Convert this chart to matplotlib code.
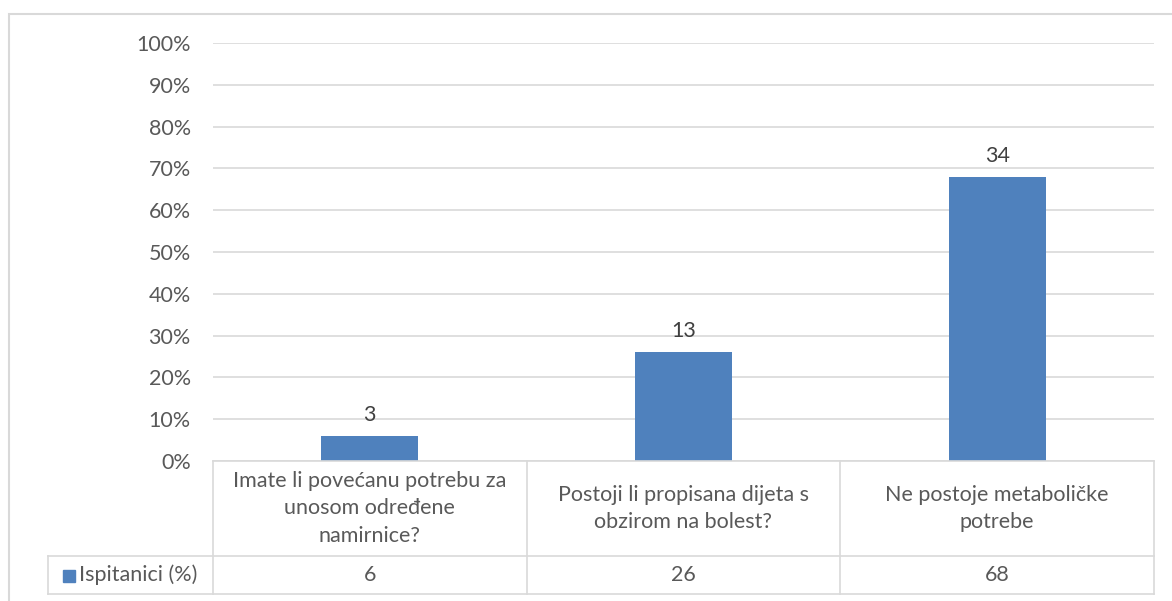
import matplotlib.pyplot as plt
from matplotlib.ticker import PercentFormatter

# ---------- Data ----------
categories = [
    "Imate li povećanu potrebu za\nunosom određene\nnamirnice?",
    "Postoji li propisana dijeta s\nobzirom na bolest?",
    "Ne postoje metaboličke\npotrebe",
]
percent = [6, 26, 68]
counts = [3, 13, 34]
series_name = "Ispitanici (%)"

bar_color = "#4F81BD"
text_color = "#595959"
grid_color = "#D9D9D9"
fs = 15.5
plt.rcParams["font.family"] = ["Lato", "DejaVu Sans"]

W, H = 1172, 601
fig = plt.figure(figsize=(W / 100, H / 100), dpi=100)

# pixel layout
px_left, px_right = 213, 1154
px_top, px_zero = 43, 461
px_row, px_bottom = 556, 594
px_tab_left = 48

def fx(p):
    return p / W

def fy(p):
    return 1 - p / H

# ---------- Bar chart ----------
ax = fig.add_axes([fx(px_left), fy(px_zero), fx(px_right - px_left), fy(px_top) - fy(px_zero)])
x = range(len(categories))
ax.bar(x, [p / 100 for p in percent], width=0.31, color=bar_color, zorder=3)
for i, c in enumerate(counts):
    ax.text(i, percent[i] / 100 + 0.026, str(c), ha="center", va="bottom",
            fontsize=fs, color="#404040")
ax.set_xlim(-0.5, 2.5)
ax.set_ylim(0, 1)
ax.set_yticks([i / 10 for i in range(11)])
ax.yaxis.set_major_formatter(PercentFormatter(1.0, decimals=0))
ax.tick_params(axis="y", length=0, pad=16, labelsize=fs, labelcolor=text_color)
ax.set_xticks([])
ax.grid(axis="y", color=grid_color, linewidth=1.2, zorder=0)
for s in ax.spines.values():
    s.set_visible(False)

# ---------- Data table ----------
cat_w = (px_right - px_left) / 3
legend_w = (px_left - px_tab_left) / cat_w
tax = fig.add_axes([fx(px_tab_left), fy(px_bottom), fx(px_right - px_tab_left), fy(px_zero) - fy(px_bottom)])
tax.set_xlim(-0.5 - legend_w, 2.5)
tax.set_ylim(0, px_bottom - px_zero)
tax.axis("off")
row_y = px_bottom - px_row
top_y = px_bottom - px_zero
lw = 1.2
# horizontal lines
tax.plot([-0.5, 2.5], [top_y, top_y], color=grid_color, lw=lw, clip_on=False)
tax.plot([-0.5 - legend_w, 2.5], [row_y, row_y], color=grid_color, lw=lw, clip_on=False)
tax.plot([-0.5 - legend_w, 2.5], [0, 0], color=grid_color, lw=lw, clip_on=False)
# vertical lines
tax.plot([-0.5 - legend_w, -0.5 - legend_w], [0, row_y], color=grid_color, lw=lw, clip_on=False)
for b in [-0.5, 0.5, 1.5, 2.5]:
    tax.plot([b, b], [0, top_y], color=grid_color, lw=lw, clip_on=False)

for i, (cat, p) in enumerate(zip(categories, percent)):
    tax.text(i, (top_y + row_y) / 2, cat, ha="center", va="center",
             fontsize=fs, color=text_color, linespacing=1.45)
    tax.text(i, row_y / 2, str(p), ha="center", va="center",
             fontsize=fs, color=text_color)

# legend cell
fig.patches.append(plt.Rectangle((fx(63), fy(582)), fx(12), fy(570) - fy(582),
                                 transform=fig.transFigure, color=bar_color))
fig.text(fx(79), fy(575), series_name, ha="left", va="center",
         fontsize=fs, color=text_color)

# outer chart border
fig.patches.append(plt.Rectangle((fx(9), fy(1200)), fx(1200), fy(14) - fy(1200),
                                 transform=fig.transFigure, fill=False,
                                 edgecolor=grid_color, lw=1.5))

fig.savefig("out.png", dpi=100)
